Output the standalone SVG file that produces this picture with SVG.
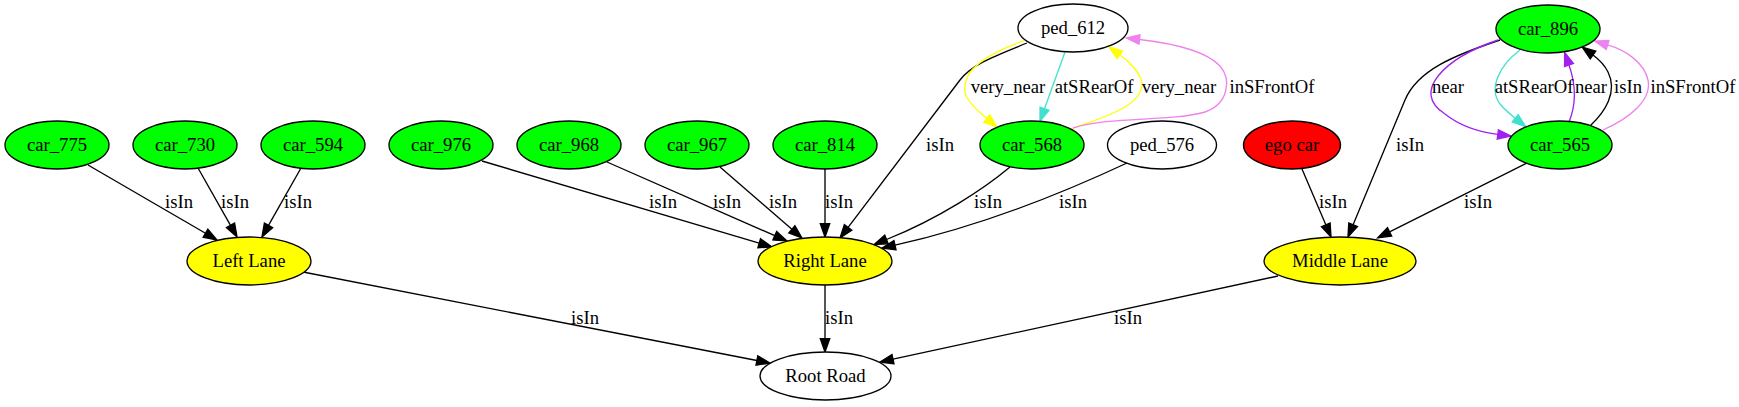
<svg xmlns="http://www.w3.org/2000/svg" width="1739" height="407" viewBox="0 0 1739 407">
<style>
text{font-family:"Liberation Serif","Times New Roman",serif;font-size:18.67px;text-anchor:middle;fill:#000}
.n ellipse{stroke:#000;stroke-width:1.33}
.e path{fill:none;stroke-width:1.33}
.k{stroke:#000}.y{stroke:#ffff00}.t{stroke:#40e0d0}.v{stroke:#ee82ee}.p{stroke:#a020f0}
</style>
<defs>
<marker id="ak" markerUnits="userSpaceOnUse" markerWidth="16" markerHeight="12" refX="0" refY="0" viewBox="-1 -6 16 12" orient="auto" overflow="visible"><path d="M0,-4.7L13.3,0L0,4.7z" fill="#000" stroke="#000" stroke-width="1.33"/></marker>
<marker id="ay" markerUnits="userSpaceOnUse" markerWidth="16" markerHeight="12" refX="0" refY="0" viewBox="-1 -6 16 12" orient="auto" overflow="visible"><path d="M0,-4.7L13.3,0L0,4.7z" fill="#ffff00" stroke="#ffff00" stroke-width="1.33"/></marker>
<marker id="at" markerUnits="userSpaceOnUse" markerWidth="16" markerHeight="12" refX="0" refY="0" viewBox="-1 -6 16 12" orient="auto" overflow="visible"><path d="M0,-4.7L13.3,0L0,4.7z" fill="#40e0d0" stroke="#40e0d0" stroke-width="1.33"/></marker>
<marker id="av" markerUnits="userSpaceOnUse" markerWidth="16" markerHeight="12" refX="0" refY="0" viewBox="-1 -6 16 12" orient="auto" overflow="visible"><path d="M0,-4.7L13.3,0L0,4.7z" fill="#ee82ee" stroke="#ee82ee" stroke-width="1.33"/></marker>
<marker id="ap" markerUnits="userSpaceOnUse" markerWidth="16" markerHeight="12" refX="0" refY="0" viewBox="-1 -6 16 12" orient="auto" overflow="visible"><path d="M0,-4.7L13.3,0L0,4.7z" fill="#a020f0" stroke="#a020f0" stroke-width="1.33"/></marker>
</defs>
<rect width="1739" height="407" fill="#fff"/>
<g id="connectors" class="e">
<path class="k" marker-end="url(#ak)" d="M88,165L205.5,233.3"/>
<path class="k" marker-end="url(#ak)" d="M198,168L230.5,225.4"/>
<path class="k" marker-end="url(#ak)" d="M301,168L268.5,225.4"/>
<path class="k" marker-end="url(#ak)" d="M482,161L759.2,243.2"/>
<path class="k" marker-end="url(#ak)" d="M607,162L774.8,235.7"/>
<path class="k" marker-end="url(#ak)" d="M720,167L791.9,229.3"/>
<path class="k" marker-end="url(#ak)" d="M825,169L825,223.7"/>
<path class="k" marker-end="url(#ak)" d="M1027,43C995,56 972,64 960,80L848.1,227.4"/>
<path class="k" marker-end="url(#ak)" d="M1010,167C985,188 940,218 886.5,239.5"/>
<path class="k" marker-end="url(#ak)" d="M1127,163C1080,185 990,224 895,245.2"/>
<path class="k" marker-end="url(#ak)" d="M303,272L756.9,360.5"/>
<path class="k" marker-end="url(#ak)" d="M825,285L825,338.7"/>
<path class="k" marker-end="url(#ak)" d="M1278,276L893,359.2"/>
<path class="k" marker-end="url(#ak)" d="M1302,169L1325.8,224.8"/>
<path class="k" marker-end="url(#ak)" d="M1500,40C1455,55 1417.5,70 1405,100L1353.1,224.7"/>
<path class="k" marker-end="url(#ak)" d="M1527,163L1389.6,231.9"/>
<path class="y" marker-end="url(#ay)" d="M1025,40C985,55 962,70 965,92C966,100 976.8,110.2 986.8,118.5"/>
<path class="t" marker-end="url(#at)" d="M1065,52L1044.5,108.8"/>
<path class="y" marker-end="url(#ay)" d="M1071,129C1100,118 1140,108 1142,85C1143,75 1128,60.5 1119.8,54.7"/>
<path class="v" marker-end="url(#av)" d="M1073,128C1110,116 1170,122 1205,112C1228,104 1232,80 1220,66C1205,50 1170,43 1139.5,39.5"/>
<path class="p" marker-end="url(#ap)" d="M1498,40C1445,58 1410,92 1445,114C1460,126 1479,132 1497.8,134.4"/>
<path class="t" marker-end="url(#at)" d="M1520,50C1500,65 1488,88 1500,104C1505,110 1510,114 1515.2,118.2"/>
<path class="p" marker-end="url(#ap)" d="M1569,122C1576,105 1576,85 1569,65"/>
<path class="k" marker-end="url(#ak)" d="M1590,126C1605,112 1618,92 1608,72C1604,64 1599,59.4 1593,55"/>
<path class="v" marker-end="url(#av)" d="M1603,130C1630,118 1652,100 1648,80C1644,62 1625,50 1607.6,44.9"/>
</g>
<g id="edge-labels">
<text x="179" y="208">isIn</text>
<text x="235" y="208">isIn</text>
<text x="298" y="208">isIn</text>
<text x="663" y="208">isIn</text>
<text x="727" y="208">isIn</text>
<text x="783" y="208">isIn</text>
<text x="839" y="208">isIn</text>
<text x="940" y="151">isIn</text>
<text x="988" y="208">isIn</text>
<text x="1073" y="208">isIn</text>
<text x="1008" y="93">very_near</text>
<text x="1094" y="93">atSRearOf</text>
<text x="1179" y="93">very_near</text>
<text x="1272" y="93">inSFrontOf</text>
<text x="1333" y="208">isIn</text>
<text x="1410" y="151">isIn</text>
<text x="1478" y="208">isIn</text>
<text x="1448" y="93">near</text>
<text x="1534" y="93">atSRearOf</text>
<text x="1591" y="93">near</text>
<text x="1628" y="93">isIn</text>
<text x="1693" y="93">inSFrontOf</text>
<text x="585" y="324">isIn</text>
<text x="839" y="324">isIn</text>
<text x="1128" y="324">isIn</text>
</g>
<g id="ped_612" class="n"><ellipse cx="1073" cy="28" rx="55" ry="24" fill="#fff"/><text x="1073" y="34">ped_612</text></g>
<g id="car_896" class="n"><ellipse cx="1548" cy="29" rx="52" ry="24" fill="#00ff00"/><text x="1548" y="35">car_896</text></g>
<g id="car_775" class="n"><ellipse cx="57" cy="145" rx="52" ry="24" fill="#00ff00"/><text x="57" y="151">car_775</text></g>
<g id="car_730" class="n"><ellipse cx="185" cy="145" rx="52" ry="24" fill="#00ff00"/><text x="185" y="151">car_730</text></g>
<g id="car_594" class="n"><ellipse cx="313" cy="145" rx="52" ry="24" fill="#00ff00"/><text x="313" y="151">car_594</text></g>
<g id="car_976" class="n"><ellipse cx="441" cy="145" rx="52" ry="24" fill="#00ff00"/><text x="441" y="151">car_976</text></g>
<g id="car_968" class="n"><ellipse cx="569" cy="145" rx="52" ry="24" fill="#00ff00"/><text x="569" y="151">car_968</text></g>
<g id="car_967" class="n"><ellipse cx="697" cy="145" rx="52" ry="24" fill="#00ff00"/><text x="697" y="151">car_967</text></g>
<g id="car_814" class="n"><ellipse cx="825" cy="145" rx="52" ry="24" fill="#00ff00"/><text x="825" y="151">car_814</text></g>
<g id="car_568" class="n"><ellipse cx="1032" cy="145" rx="52" ry="24" fill="#00ff00"/><text x="1032" y="151">car_568</text></g>
<g id="ped_576" class="n"><ellipse cx="1162" cy="145" rx="54.5" ry="24" fill="#fff"/><text x="1162" y="151">ped_576</text></g>
<g id="ego_car" class="n"><ellipse cx="1292" cy="145" rx="48.5" ry="24" fill="#ff0000"/><text x="1292" y="151">ego car</text></g>
<g id="car_565" class="n"><ellipse cx="1560" cy="145" rx="52" ry="24" fill="#00ff00"/><text x="1560" y="151">car_565</text></g>
<g id="left_lane" class="n"><ellipse cx="249" cy="261" rx="62" ry="24" fill="#ffff00"/><text x="249" y="267">Left Lane</text></g>
<g id="right_lane" class="n"><ellipse cx="825" cy="261" rx="67" ry="24" fill="#ffff00"/><text x="825" y="267">Right Lane</text></g>
<g id="middle_lane" class="n"><ellipse cx="1340" cy="261" rx="76" ry="24" fill="#ffff00"/><text x="1340" y="267">Middle Lane</text></g>
<g id="root_road" class="n"><ellipse cx="825.5" cy="376" rx="65.5" ry="24" fill="#fff"/><text x="825.5" y="382">Root Road</text></g>
</svg>
